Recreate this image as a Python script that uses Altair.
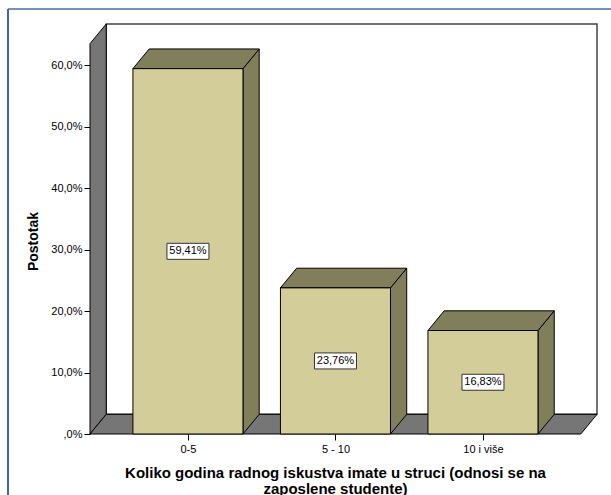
import json

import altair as alt
import pandas as pd

# Work experience categories and the share of employed students in each
categories = ["0-5", "5 - 10", "10 i više"]
percentages = [59.41, 23.76, 16.83]
y_ticks = [0, 10, 20, 30, 40, 50, 60]
x_title = ["Koliko godina radnog iskustva imate u struci (odnosi se na", "zaposlene studente)"]
y_title = "Postotak"

# Scene geometry in data units (x: category slots, y: percent)
X_LEFT, X_RIGHT = -0.664, 2.773
Y_TOP = 66.67
DX, DY = 0.11, 3.2          # oblique depth of the 3D projection
HALF = 0.373                # half bar width

FONT = "Liberation Sans"
FRONT = "#D3CE99"
SHADE = "#817F5B"
WALL = "#767676"

idx = list(range(len(categories)))
bars = pd.DataFrame({"i": idx, "v": percentages})
bars["x0"] = bars.i - HALF
bars["x1"] = bars.i + HALF
bars["mid"] = bars.v / 2
bars["label"] = [f"{v:.2f}".replace(".", ",") + "%" for v in percentages]

side = pd.DataFrame(
    [r for i, v in zip(idx, percentages) for r in (
        {"g": i, "x": i + HALF, "y": v, "y2": 0.0},
        {"g": i, "x": i + HALF + DX, "y": v + DY, "y2": DY},
    )]
)
top = pd.DataFrame(
    [r for i, v in zip(idx, percentages) for r in (
        {"g": i, "y": v, "x": i - HALF, "x2": i + HALF},
        {"g": i, "y": v + DY, "x": i - HALF + DX, "x2": i + HALF + DX},
    )]
)
left_wall = pd.DataFrame([
    {"x": X_LEFT, "y": Y_TOP - DY, "y2": 0.0},
    {"x": X_LEFT + DX, "y": Y_TOP, "y2": DY},
])
floor = pd.DataFrame([
    {"y": 0.0, "x": X_LEFT, "x2": X_RIGHT - DX},
    {"y": DY, "x": X_LEFT + DX, "x2": X_RIGHT},
])
back_wall = pd.DataFrame([{"x": X_LEFT + DX, "x2": X_RIGHT, "y": DY, "y2": Y_TOP}])

xs = alt.Scale(domain=[X_LEFT, X_RIGHT], nice=False, zero=False)
ys = alt.Scale(domain=[0, Y_TOP], nice=False, zero=False)

x_labels = json.dumps(categories, ensure_ascii=False)
x_axis = alt.Axis(
    values=idx,
    labelExpr=f"{x_labels}[datum.value]",
    domain=False, grid=False,
    tickSize=6, tickColor="black", labelPadding=3,
    labelFont=FONT, labelFontSize=11, labelColor="black",
    title=x_title, titleFont=FONT, titleFontSize=15, titleFontWeight="bold",
    titleColor="black", titleX=245, titleY=31, titleAlign="center",
    titleBaseline="top", titleLineHeight=16,
)
y_axis = alt.Axis(
    values=y_ticks,
    labelExpr="datum.value == 0 ? ',0%' : replace(format(datum.value, '.1f'), '.', ',') + '%'",
    domain=False, grid=False,
    tickSize=6, tickColor="black", labelPadding=2,
    labelFont=FONT, labelFontSize=11, labelColor="black",
    title=y_title, titleFont=FONT, titleFontSize=14, titleFontWeight="bold",
    titleColor="black", titleX=-57, titleY=217, titleAngle=-90,
    titleAlign="center", titleBaseline="middle",
)


def X(field):
    return alt.X(field, type="quantitative", scale=xs, axis=x_axis)


def Y(field):
    return alt.Y(field, type="quantitative", scale=ys, axis=y_axis)


back = alt.Chart(back_wall).mark_rect(fill="white", stroke="#444444", strokeWidth=1.5).encode(
    x=X("x"), x2="x2:Q", y=Y("y"), y2="y2:Q",
)
lwall = alt.Chart(left_wall).mark_area(
    orient="vertical", fill=WALL, stroke="black", strokeWidth=1, opacity=1
).encode(x=X("x"), y=Y("y"), y2="y2:Q")
flr = alt.Chart(floor).mark_area(
    orient="horizontal", fill=WALL, stroke="black", strokeWidth=1, opacity=1
).encode(y=Y("y"), x=X("x"), x2="x2:Q")

sides = alt.Chart(side).mark_area(
    orient="vertical", fill=SHADE, stroke="black", strokeWidth=1, opacity=1
).encode(x=X("x"), y=Y("y"), y2="y2:Q", detail="g:N")
tops = alt.Chart(top).mark_area(
    orient="horizontal", fill=SHADE, stroke="black", strokeWidth=1, opacity=1
).encode(y=Y("y"), x=X("x"), x2="x2:Q", detail="g:N")
fronts = alt.Chart(bars).mark_rect(fill=FRONT, stroke="black", strokeWidth=1).encode(
    x=X("x0"), x2="x1:Q", y=Y("v"), y2=alt.datum(0),
)
boxes = alt.Chart(bars).mark_rect(
    width=42, height=16, fill="white", stroke="#333333", strokeWidth=1
).encode(x=X("i"), y=Y("mid"))
labels = alt.Chart(bars).mark_text(font=FONT, fontSize=11, color="black").encode(
    x=X("i"), y=Y("mid"), text="label:N"
)

# outer viewer frame
frame_top = alt.Chart(bars).mark_rule(color="#6E8FC8", strokeWidth=1.5).encode(
    x=alt.value(-82), x2=alt.value(521), y=alt.value(-15)
)
frame_left = alt.Chart(bars).mark_rule(color="#3D63A8", strokeWidth=1.5).encode(
    x=alt.value(-82), y=alt.value(-15), y2=alt.value(471)
)

chart = alt.layer(
    back, lwall, flr, sides, tops, fronts, boxes, labels, frame_top, frame_left
).properties(
    width=507, height=410,
    padding={"left": 90, "top": 24, "right": 14, "bottom": 61},
    autosize=alt.AutoSizeParams(type="none"),
    background="white",
).configure_view(stroke=None)

chart.save("out.html", embed_options={"renderer": "svg", "actions": False})
